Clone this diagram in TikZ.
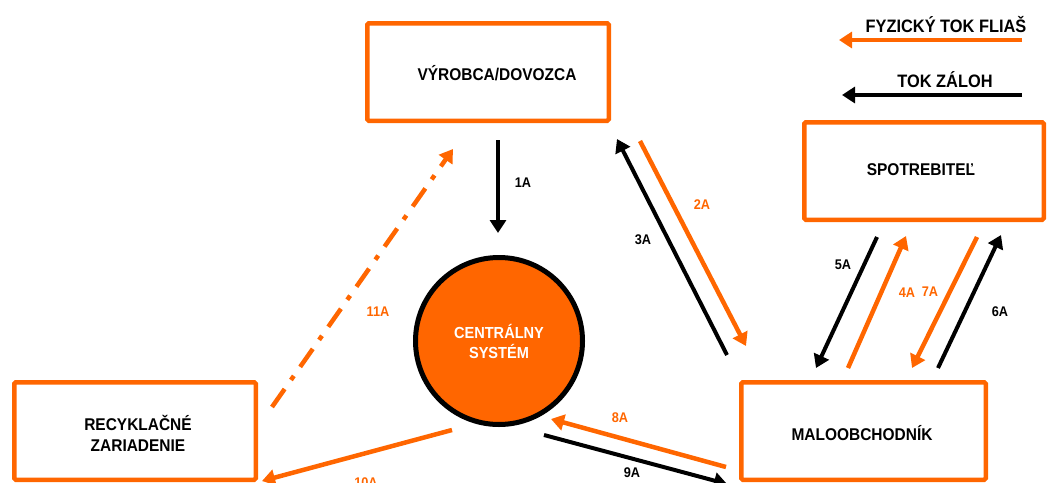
\documentclass[tikz,border=0pt]{standalone}
\usepackage{fontspec}
\setmainfont[FakeStretch=0.91]{Liberation Sans}
\usetikzlibrary{arrows.meta}
\definecolor{org}{HTML}{FF6600}
\begin{document}
\begin{tikzpicture}[x=1pt,y=-1pt,
  box/.style={draw=org,line width=4.5pt,rounded corners=1.5pt,inner sep=0pt,fill=white},
  boxtext/.style={font=\fontsize{17}{21}\selectfont\bfseries,align=center,inner sep=0pt},
  lbl/.style={font=\fontsize{14}{16}\selectfont\bfseries,inner sep=0pt},
  oarr/.style={draw=org,line width=4.5pt,-{Triangle[length=13pt,width=16pt]}},
  karr/.style={draw=black,line width=4pt,-{Triangle[length=13pt,width=16pt]}}
]
\useasboundingbox (0,0) rectangle (1047,482);
% boxes
\node[box,minimum width=241.5pt,minimum height=97.5pt] (vyr) at (488,72) {};
\node[boxtext] (vyrt) at (497,73) {VÝROBCA/DOVOZCA};
\node[box,minimum width=239.5pt,minimum height=97.5pt] (spot) at (924,171) {};
\node[boxtext] (spott) at (921,170) {SPOTREBITEĽ};
\node[box,minimum width=244.5pt,minimum height=97.5pt] (malo) at (863.5,431) {};
\node[boxtext] (malot) at (862,433) {MALOOBCHODNÍK};
\node[box,minimum width=241.5pt,minimum height=97.5pt] (recy) at (135,431) {};
\node[boxtext] (recyt) at (138,433) {RECYKLAČNÉ\\ZARIADENIE};
% central circle
\node[circle,draw=black,line width=5pt,fill=org,minimum size=167pt,inner sep=0pt,
  text=white,font=\fontsize{16}{20}\selectfont\bfseries,align=center] (cs) at (499,341) {CENTRÁLNY\\SYSTÉM};
% legend
\node[boxtext,font=\fontsize{18}{21}\selectfont\bfseries] (lg1) at (946,25) {FYZICKÝ TOK FLIAŠ};
\node[boxtext,font=\fontsize{18}{21}\selectfont\bfseries] (lg2) at (945,80) {TOK ZÁLOH};
\coordinate (lg1s) at (1022,40); \coordinate (lg1e) at (839,40);
\coordinate (lg2s) at (1022,95); \coordinate (lg2e) at (842,95);
\draw[oarr] (lg1s) -- (lg1e);
\draw[karr] (lg2s) -- (lg2e);
% arrow endpoints
\coordinate (a1s) at (498,140);  \coordinate (a1e) at (498,233);
\coordinate (a2s) at (640,141);  \coordinate (a2e) at (746,346);
\coordinate (a3s) at (727,355);  \coordinate (a3e) at (617,139);
\coordinate (a4s) at (848,368);  \coordinate (a4e) at (906,236);
\coordinate (a5s) at (877,237);  \coordinate (a5e) at (816,368);
\coordinate (a6s) at (938,368);  \coordinate (a6e) at (1001,235);
\coordinate (a7s) at (977,237);  \coordinate (a7e) at (912,368);
\coordinate (a8s) at (726,467);  \coordinate (a8e) at (551,419);
\coordinate (a9s) at (544,435);  \coordinate (a9e) at (727,484);
\coordinate (a10s) at (452,430); \coordinate (a10e) at (262,481);
\coordinate (a11s) at (272,407); \coordinate (a11e) at (453,149);
\draw[karr] (a1s) -- (a1e);
\draw[oarr] (a2s) -- (a2e);
\draw[karr] (a3s) -- (a3e);
\draw[oarr] (a4s) -- (a4e);
\draw[karr] (a5s) -- (a5e);
\draw[karr] (a6s) -- (a6e);
\draw[oarr] (a7s) -- (a7e);
\draw[oarr] (a8s) -- (a8e);
\draw[karr] (a9s) -- (a9e);
\draw[oarr] (a10s) -- (a10e);
\draw[oarr,dash pattern=on 22pt off 11pt on 5pt off 11pt] (a11s) -- (a11e);
% labels
\node[lbl] (l1) at (523,183) {1A};
\node[lbl,text=org] (l2) at (702,205) {2A};
\node[lbl] (l3) at (643,240) {3A};
\node[lbl,text=org] (l4) at (907,293) {4A};
\node[lbl] (l5) at (843,265) {5A};
\node[lbl] (l6) at (1000,312) {6A};
\node[lbl,text=org] (l7) at (930,292) {7A};
\node[lbl,text=org] (l8) at (620,418) {8A};
\node[lbl] (l9) at (632,473) {9A};
\node[lbl,text=org] (l10) at (366,483) {10A};
\node[lbl,text=org] (l11) at (378,312) {11A};
\end{tikzpicture}
\end{document}
